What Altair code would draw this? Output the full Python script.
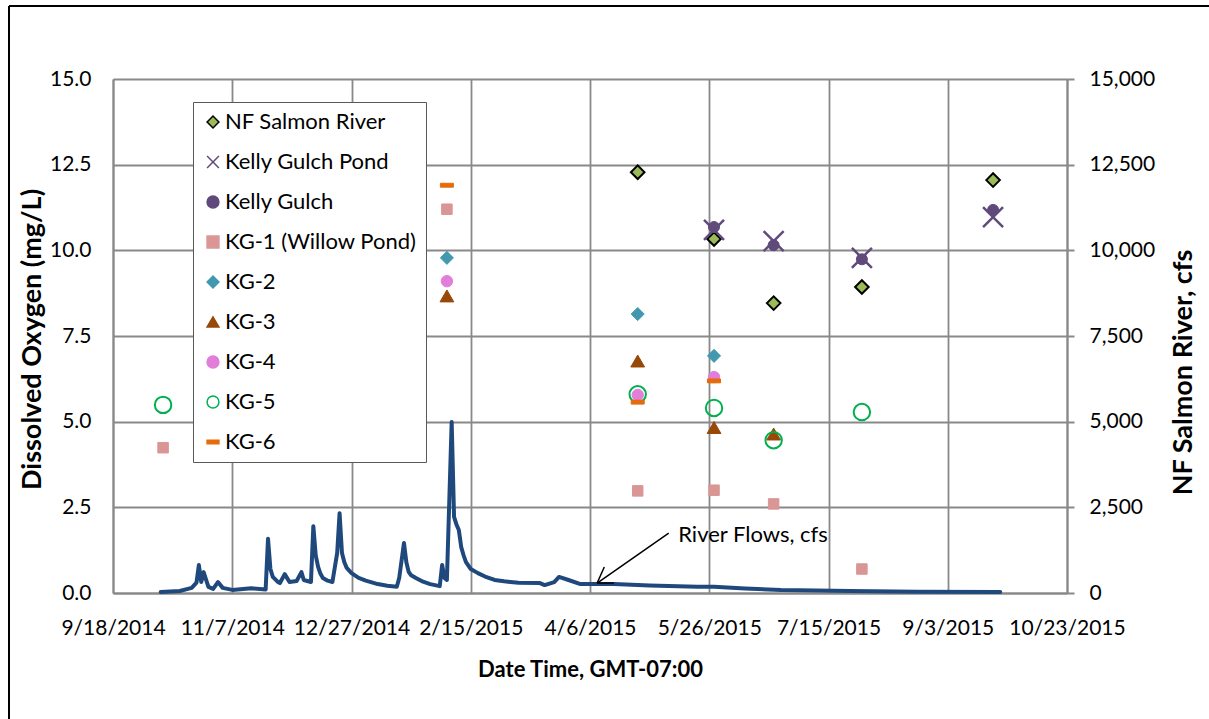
import altair as alt
import pandas as pd

FONT = "Lato"

# ---------------- data ----------------
X_TICKS = ["2014-09-18", "2014-11-07", "2014-12-27", "2015-02-15", "2015-04-06",
           "2015-05-26", "2015-07-15", "2015-09-03", "2015-10-23"]
DO_TICKS = [0, 2.5, 5, 7.5, 10, 12.5, 15]
FLOW_TICKS = [0, 2500, 5000, 7500, 10000, 12500, 15000]

SERIES = ["NF Salmon River", "Kelly Gulch Pond", "Kelly Gulch", "KG-1 (Willow Pond)",
          "KG-2", "KG-3", "KG-4", "KG-5", "KG-6"]

NF_DATES = ["2015-04-26", "2015-05-28", "2015-06-22", "2015-07-29", "2015-09-22"]
NF_DO = [12.28, 10.33, 8.46, 8.93, 12.05]
KGP_DATES = ["2015-05-28", "2015-06-22", "2015-07-29", "2015-09-22"]
KGP_DO = [10.60, 10.27, 9.78, 10.97]
KG_DATES = ["2015-05-28", "2015-06-22", "2015-07-29", "2015-09-22"]
KG_DO = [10.68, 10.15, 9.74, 11.18]
KG1_DATES = ["2014-10-09", "2015-02-05", "2015-04-26", "2015-05-28", "2015-06-22", "2015-07-29"]
KG1_DO = [4.24, 11.20, 2.98, 3.00, 2.60, 0.70]
KG2_DATES = ["2015-02-05", "2015-04-26", "2015-05-28"]
KG2_DO = [9.78, 8.14, 6.92]
KG3_DATES = ["2015-02-05", "2015-04-26", "2015-05-28", "2015-06-22"]
KG3_DO = [8.67, 6.77, 4.83, 4.64]
KG4_DATES = ["2015-02-05", "2015-04-26", "2015-05-28"]
KG4_DO = [9.10, 5.78, 6.30]
KG5_DATES = ["2014-10-09", "2015-04-26", "2015-05-28", "2015-06-22", "2015-07-29"]
KG5_DO = [5.49, 5.80, 5.40, 4.46, 5.28]
KG6_DATES = ["2015-02-05", "2015-04-26", "2015-05-28"]
KG6_DO = [11.90, 5.57, 6.19]

FLOW_DATES = [
    "2014-10-08", "2014-10-16", "2014-10-21", "2014-10-23", "2014-10-24", "2014-10-25",
    "2014-10-26", "2014-10-28", "2014-10-30", "2014-11-01", "2014-11-03", "2014-11-07",
    "2014-11-15", "2014-11-21", "2014-11-22", "2014-11-23", "2014-11-24", "2014-11-26",
    "2014-11-27", "2014-11-29", "2014-12-01", "2014-12-04", "2014-12-06", "2014-12-07",
    "2014-12-10", "2014-12-11", "2014-12-12", "2014-12-13", "2014-12-14", "2014-12-15",
    "2014-12-17", "2014-12-19", "2014-12-21", "2014-12-22", "2014-12-23", "2014-12-24",
    "2014-12-25", "2014-12-27", "2014-12-30", "2015-01-02", "2015-01-07", "2015-01-11",
    "2015-01-15", "2015-01-16", "2015-01-18", "2015-01-19", "2015-01-20", "2015-01-21",
    "2015-01-23", "2015-01-26", "2015-01-29", "2015-02-02", "2015-02-03", "2015-02-04",
    "2015-02-05", "2015-02-07", "2015-02-08", "2015-02-09", "2015-02-10", "2015-02-11",
    "2015-02-12", "2015-02-13", "2015-02-15", "2015-02-18", "2015-02-21", "2015-02-25",
    "2015-03-01", "2015-03-07", "2015-03-16", "2015-03-18", "2015-03-22", "2015-03-24",
    "2015-03-28", "2015-04-02", "2015-04-16", "2015-05-01", "2015-05-21", "2015-05-28",
    "2015-06-10", "2015-06-25", "2015-07-24", "2015-08-21", "2015-09-25"]
FLOW_CFS = [
    30, 60, 150, 300, 820, 320,
    610, 180, 120, 320, 150, 90,
    140, 100, 1580, 700, 470, 330,
    290, 550, 320, 350, 610, 380,
    320, 1950, 1100, 760, 560, 440,
    360, 320, 1170, 2330, 1170, 900,
    730, 580, 440, 360, 260, 210,
    180, 440, 1460, 900, 610, 520,
    440, 330, 260, 200, 820, 440,
    380, 4990, 2220, 2000, 1840, 1340,
    1100, 900, 700, 580, 480, 380,
    340, 300, 290, 230, 320, 470,
    380, 260, 260, 220, 180, 180,
    130, 90, 60, 40, 30]

NOTE_TEXT = ["River Flows, cfs"]
NOTE_DATE = ["2015-05-13"]
NOTE_CFS = [1690]
ARROW_FROM_DATE = ["2015-05-09", "2015-04-12", "2015-04-16"]
ARROW_FROM_CFS = [1750, 760, 290]
ARROW_TO_DATE = ["2015-04-09", "2015-04-09", "2015-04-09"]
ARROW_TO_CFS = [290, 290, 290]

# ---------------- styles ----------------
FILLS = ["#9BBB59", "transparent", "#604A7B", "#D99694", "#4198AF", "#984807",
         "#E17EDA", "transparent", "#E46C0A"]
STROKES = ["#000000", "#604A7B", "#604A7B", "#D99694", "#4198AF", "#984807",
           "#E17EDA", "#00B050", "#E46C0A"]
SHAPES = ["diamond", "M-1,-1L1,1M1,-1L-1,1", "circle", "square", "diamond",
          "triangle-up", "circle", "circle", "M-1,-0.3H1V0.3H-1Z"]
SIZES = [185, 400, 121, 110, 170, 190, 130, 270, 169]
STROKE_WIDTHS = [2, 2.5, 1, 1, 1, 1, 1, 2, 1]

SERIES_DATA = [(NF_DATES, NF_DO), (KGP_DATES, KGP_DO), (KG_DATES, KG_DO),
               (KG1_DATES, KG1_DO), (KG2_DATES, KG2_DO), (KG3_DATES, KG3_DO),
               (KG4_DATES, KG4_DO), (KG5_DATES, KG5_DO), (KG6_DATES, KG6_DO)]

GRID = "#898989"


def dt(s):
    y, m, d = (int(v) for v in s.split("-"))
    return alt.DateTime(year=y, month=m, date=d, utc=True)


x_scale = alt.Scale(type="utc", domain=[dt(X_TICKS[0]), dt(X_TICKS[-1])])
x_axis = alt.Axis(values=[dt(s) for s in X_TICKS], format="%-m/%-d/%Y",
                  title="Date Time, GMT-07:00", grid=True, ticks=False,
                  labelFlush=False, labelOverlap=False, labelPadding=24,
                  titleY=76, titleBaseline="middle", titleFontSize=22)

do_scale = alt.Scale(domain=[0, 15], nice=False, zero=True)
do_axis = alt.Axis(values=DO_TICKS, format=".1f", orient="left",
                   title="Dissolved Oxygen (mg/L)", grid=True, ticks=False,
                   labelPadding=22, titleAngle=270, titleX=-81, titleY=260,
                   titleBaseline="middle", titleAlign="center", titleFontSize=27)

flow_scale = alt.Scale(domain=[0, 15000], nice=False, zero=True)
flow_axis = alt.Axis(values=FLOW_TICKS, format=",.0f", orient="right",
                     title="NF Salmon River, cfs", grid=False, ticks=True, tickSize=7,
                     labelPadding=15, titleAngle=270, titleX=116, titleY=293,
                     titleBaseline="middle", titleAlign="center", titleFontSize=27)

legend = alt.Legend(title=None, orient="none", legendX=80, legendY=23, padding=9,
                    rowPadding=18, labelFont=FONT, labelFontSize=22, labelLimit=400,
                    labelColor="black", labelOffset=1, symbolSize=140,
                    symbolStrokeWidth=1.5, strokeColor="#595959", fillColor="white")

shape_enc = alt.Shape("series:N", scale=alt.Scale(domain=SERIES, range=SHAPES), legend=legend)
fill_enc = alt.Fill("series:N", scale=alt.Scale(domain=SERIES, range=FILLS), legend=legend)
stroke_enc = alt.Stroke("series:N", scale=alt.Scale(domain=SERIES, range=STROKES), legend=legend)

X_ENC = alt.X("date:T", scale=x_scale, axis=x_axis)

# ---------------- flow layers ----------------
flow_df = pd.DataFrame({"date": FLOW_DATES, "cfs": FLOW_CFS})
flow_line = alt.Chart(flow_df).mark_line(color="#1F497D", strokeWidth=4,
                                         strokeJoin="round", strokeCap="round").encode(
    x=X_ENC,
    y=alt.Y("cfs:Q", scale=flow_scale, axis=flow_axis),
)

arrow_df = pd.DataFrame({"date": ARROW_FROM_DATE, "cfs": ARROW_FROM_CFS,
                         "date2": ARROW_TO_DATE, "cfs2": ARROW_TO_CFS})
arrow = alt.Chart(arrow_df).mark_rule(color="black", strokeWidth=1.5).encode(
    x=X_ENC, x2="date2:T",
    y=alt.Y("cfs:Q", scale=flow_scale, axis=flow_axis), y2="cfs2:Q",
)

note_df = pd.DataFrame({"date": NOTE_DATE, "cfs": NOTE_CFS, "label": NOTE_TEXT})
note = alt.Chart(note_df).mark_text(font=FONT, fontSize=22, align="left",
                                    baseline="middle", color="black").encode(
    x=X_ENC,
    y=alt.Y("cfs:Q", scale=flow_scale, axis=flow_axis),
    text="label:N",
)

flow_layer = alt.layer(flow_line, arrow, note)

# ---------------- point layers ----------------
point_layers = []
for name, (dates, vals), size, sw in zip(SERIES, SERIES_DATA, SIZES, STROKE_WIDTHS):
    df = pd.DataFrame({"date": dates, "do": vals, "series": name})
    point_layers.append(
        alt.Chart(df).mark_point(filled=True, opacity=1, size=size, strokeWidth=sw).encode(
            x=X_ENC,
            y=alt.Y("do:Q", scale=do_scale, axis=do_axis),
            shape=shape_enc, fill=fill_enc, stroke=stroke_enc,
        )
    )
points_layer = alt.layer(*point_layers)

# ---------------- outer frame ----------------
frame_df = pd.DataFrame({"a": [0]})
frame_top = alt.Chart(frame_df).mark_rule(color="black", strokeWidth=2).encode(
    x=alt.value(-104), x2=alt.value(1120), y=alt.value(-73))
frame_left = alt.Chart(frame_df).mark_rule(color="black", strokeWidth=2).encode(
    x=alt.value(-104), y=alt.value(-73), y2=alt.value(660))

chart = alt.layer(flow_layer, points_layer, frame_top, frame_left).resolve_scale(
    y="independent"
).properties(
    width=954, height=514,
    autosize=alt.AutoSizeParams(type="none"),
    padding={"left": 113, "top": 79, "right": 142, "bottom": 126},
    background="white",
).configure_view(stroke=None).configure_axis(
    labelFont=FONT, labelFontSize=21, labelColor="black",
    titleFont=FONT, titleFontWeight="bold", titleColor="black",
    gridColor=GRID, gridWidth=1.8, gridOpacity=1,
    domainColor=GRID, domainWidth=2, tickColor=GRID, tickWidth=2,
)

chart.save("out.html", embed_options={"renderer": "svg", "actions": False})
